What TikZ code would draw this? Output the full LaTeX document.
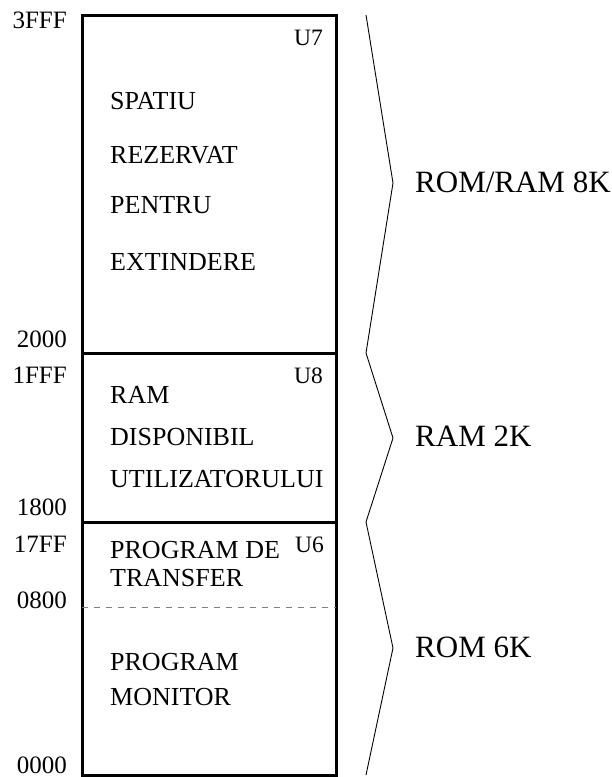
\documentclass[tikz,border=0pt]{standalone}
\usepackage{fontspec}
\setmainfont{Liberation Serif}
\begin{document}
\begin{tikzpicture}[x=1pt,y=-1pt,
  addr/.style={anchor=base east, inner sep=0pt, font=\fontsize{25}{30}\selectfont},
  txt/.style={anchor=base west, inner sep=0pt, font=\fontsize{26}{30}\selectfont},
  chip/.style={anchor=base east, inner sep=0pt, font=\fontsize{23.5}{28}\selectfont},
  sizelbl/.style={anchor=base west, inner sep=0pt, font=\fontsize{31}{36}\selectfont},
  memline/.style={line width=3pt},
  brace/.style={line width=0.9pt, line join=miter}]
\useasboundingbox (0,0) rectangle (612,777);
% memory box
\coordinate (tl) at (82,15);
\coordinate (br) at (336,775);
\coordinate (d1l) at (82,353); \coordinate (d1r) at (336,353);
\coordinate (d2l) at (82,522); \coordinate (d2r) at (336,522);
\coordinate (d3l) at (82,607); \coordinate (d3r) at (336,607);
\draw[memline] (tl) rectangle (br);
\draw[memline] (d1l) -- (d1r);
\draw[memline] (d2l) -- (d2r);
\draw[gray, line width=0.9pt, dash pattern=on 6pt off 6pt] (d3l) -- (d3r);
% zigzag braces
\coordinate (z0) at (366,15);
\coordinate (z1) at (393,183);
\coordinate (z2) at (366,353);
\coordinate (z3) at (393,438);
\coordinate (z4) at (366,522);
\coordinate (z5) at (393,648);
\coordinate (z6) at (366,775);
\draw[brace] (z0) -- (z1) -- (z2) -- (z3) -- (z4) -- (z5) -- (z6);
% size labels
\node[sizelbl] (s8) at (415,192) {ROM/RAM 8K};
\node[sizelbl] (s2) at (415,446) {RAM 2K};
\node[sizelbl] (s6) at (415,657) {ROM 6K};
% addresses
\node[addr] (a3fff) at (67,28) {3FFF};
\node[addr] (a2000) at (67,347) {2000};
\node[addr] (a1fff) at (67,383) {1FFF};
\node[addr] (a1800) at (67,515) {1800};
\node[addr] (a17ff) at (67,552) {17FF};
\node[addr] (a0800) at (67,608) {0800};
\node[addr] (a0000) at (67,773) {0000};
% chip labels
\node[chip] (u7) at (323,45) {U7};
\node[chip] (u8) at (323,383) {U8};
\node[chip] (u6) at (324,552) {U6};
% box texts
\node[txt] (t1) at (110,109) {SPATIU};
\node[txt] (t2) at (110,163) {REZERVAT};
\node[txt] (t3) at (110,213) {PENTRU};
\node[txt] (t4) at (110,270) {EXTINDERE};
\node[txt] (t5) at (110,403) {RAM};
\node[txt] (t6) at (110,445) {DISPONIBIL};
\node[txt] (t7) at (110,487) {UTILIZATORULUI};
\node[txt] (t8) at (110,558) {PROGRAM DE};
\node[txt] (t9) at (110,586) {TRANSFER};
\node[txt] (t10) at (110,670) {PROGRAM};
\node[txt] (t11) at (110,705) {MONITOR};
\end{tikzpicture}
\end{document}
